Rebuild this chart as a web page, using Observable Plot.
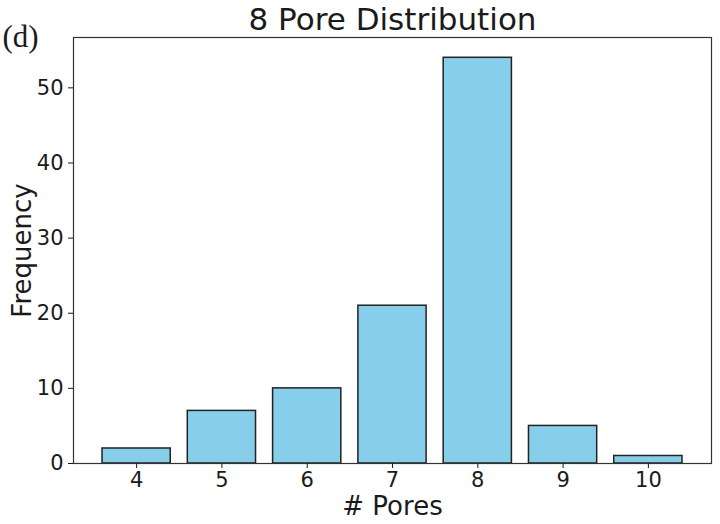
<!DOCTYPE html>
<html>
<head>
<meta charset="utf-8">
<script src="https://cdn.jsdelivr.net/npm/d3@7"></script>
<script src="https://cdn.jsdelivr.net/npm/@observablehq/plot@0.6"></script>
<style>
  html, body { margin: 0; padding: 0; background: #fff; }
</style>
</head>
<body>
<div id="chart"></div>
<script>
const pores = [4, 5, 6, 7, 8, 9, 10];
const frequency = [2, 7, 10, 21, 54, 5, 1];
const yTicks = [0, 10, 20, 30, 40, 50];
const titleText = "8 Pore Distribution";
const panelLabel = "(d)";
const xLabel = "# Pores";
const yLabel = "Frequency";

const data = pores.map((p, i) => ({ p, f: frequency[i] }));

const chart = Plot.plot({
  width: 720,
  height: 524,
  marginLeft: 73,
  marginRight: 9,
  marginTop: 37,
  marginBottom: 61,
  style: { fontFamily: "DejaVu Sans", fontSize: "21px", color: "#1a1a1a", background: "#fff" },
  x: { domain: [3.26, 10.74] },
  y: { domain: [0, 56.7] },
  marks: [
    Plot.rectY(data, { x1: d => d.p - 0.4, x2: d => d.p + 0.4, y1: 0, y2: "f", fill: "#87CEEB", stroke: "#222", strokeWidth: 1.5 }),
    Plot.frame({ stroke: "#333", strokeWidth: 1.2 }),
    Plot.axisX(pores, { tickFormat: d => String(d), tickSize: 5, tickPadding: 4, fontSize: 21, label: null }),
    Plot.axisY(yTicks, { tickSize: 5, tickPadding: 5, fontSize: 21, label: null }),
    Plot.text([titleText], { text: d => d, frameAnchor: "top", dy: -17, fontSize: 31, lineAnchor: "middle" }),
    Plot.text([panelLabel], { text: d => d, frameAnchor: "top-left", dx: -71, dy: 0, fontSize: 31, fontFamily: "Liberation Serif", textAnchor: "start", lineAnchor: "middle" }),
    Plot.text([xLabel], { text: d => d, frameAnchor: "bottom", dy: 43, fontSize: 26, lineAnchor: "middle" }),
    Plot.text([yLabel], { text: d => d, frameAnchor: "left", dx: -51, rotate: -90, fontSize: 26, textAnchor: "middle", lineAnchor: "middle" })
  ]
});
document.getElementById("chart").appendChild(chart);
</script>
</body>
</html>
